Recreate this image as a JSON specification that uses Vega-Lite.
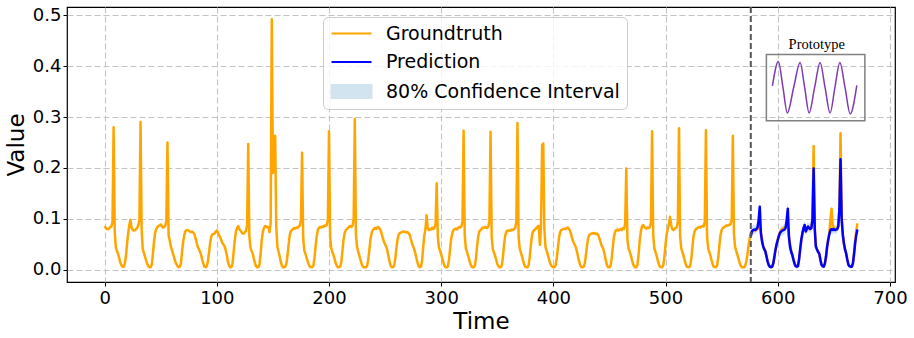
{
"$schema": "https://vega.github.io/schema/vega-lite/v6.json",
"width": 828, "height": 275,
"autosize": {"type": "none"},
"padding": {"left": 67, "top": 7, "right": 19, "bottom": 56},
"background": "white",
"config": {
  "view": {"stroke": "#000000", "strokeWidth": 1.2},
  "font": "DejaVu Sans",
  "axis": {"domain": false, "grid": true, "gridColor": "#c4c4c4", "gridDash": [6,3], "gridWidth": 1.1, "tickColor": "#000000", "tickSize": 4, "tickWidth": 1, "labelFont": "DejaVu Sans", "labelFontSize": 18, "labelColor": "#000000", "titleFont": "DejaVu Sans", "titleFontSize": 23, "titleFontWeight": "normal", "titleColor": "#000000"},
  "legend": {"title": null, "orient": "none", "legendX": 256, "legendY": 10,
         "labelFont": "DejaVu Sans", "labelFontSize": 19, "labelColor": "#000000", "labelLimit": 400,
         "symbolSize": 100, "symbolStrokeWidth": 2, "labelOffset": 37, "rowPadding": 8.5, "padding": 7,
         "fillColor": "rgba(255,255,255,0.8)", "strokeColor": "#cccccc", "cornerRadius": 5}
},
"datasets": {
"gt": [
{"t":0,"v":0.086},{"t":1,"v":0.082},{"t":2,"v":0.080},{"t":3,"v":0.080},{"t":4,"v":0.081},{"t":5,"v":0.084},{"t":6,"v":0.085},{"t":7,"v":0.094},{"t":8,"v":0.280},{"t":9,"v":0.075},{"t":10,"v":0.044},{"t":11,"v":0.037},{"t":12,"v":0.031},{"t":13,"v":0.023},{"t":14,"v":0.014},{"t":15,"v":0.009},{"t":16,"v":0.006},{"t":17,"v":0.006},{"t":18,"v":0.012},{"t":19,"v":0.027},{"t":20,"v":0.052},{"t":21,"v":0.072},{"t":22,"v":0.088},{"t":23,"v":0.098},
{"t":24,"v":0.083},{"t":25,"v":0.078},{"t":26,"v":0.077},{"t":27,"v":0.078},{"t":28,"v":0.080},{"t":29,"v":0.082},{"t":30,"v":0.088},{"t":31,"v":0.098},{"t":32,"v":0.290},{"t":33,"v":0.078},{"t":34,"v":0.040},{"t":35,"v":0.033},{"t":36,"v":0.026},{"t":37,"v":0.018},{"t":38,"v":0.011},{"t":39,"v":0.007},{"t":40,"v":0.005},{"t":41,"v":0.005},{"t":42,"v":0.010},{"t":43,"v":0.030},{"t":44,"v":0.055},{"t":45,"v":0.072},{"t":46,"v":0.080},{"t":47,"v":0.084},
{"t":48,"v":0.086},{"t":49,"v":0.087},{"t":50,"v":0.089},{"t":51,"v":0.086},{"t":52,"v":0.083},{"t":53,"v":0.084},{"t":54,"v":0.086},{"t":55,"v":0.096},{"t":56,"v":0.250},{"t":57,"v":0.068},{"t":58,"v":0.058},{"t":59,"v":0.046},{"t":60,"v":0.039},{"t":61,"v":0.031},{"t":62,"v":0.024},{"t":63,"v":0.016},{"t":64,"v":0.011},{"t":65,"v":0.007},{"t":66,"v":0.005},{"t":67,"v":0.006},{"t":68,"v":0.012},{"t":69,"v":0.035},{"t":70,"v":0.055},{"t":71,"v":0.068},
{"t":72,"v":0.076},{"t":73,"v":0.078},{"t":74,"v":0.078},{"t":75,"v":0.077},{"t":76,"v":0.075},{"t":77,"v":0.074},{"t":78,"v":0.075},{"t":79,"v":0.073},{"t":80,"v":0.070},{"t":81,"v":0.062},{"t":82,"v":0.054},{"t":83,"v":0.045},{"t":84,"v":0.041},{"t":85,"v":0.036},{"t":86,"v":0.029},{"t":87,"v":0.020},{"t":88,"v":0.012},{"t":89,"v":0.006},{"t":90,"v":0.005},{"t":91,"v":0.007},{"t":92,"v":0.016},{"t":93,"v":0.033},{"t":94,"v":0.052},{"t":95,"v":0.065},
{"t":96,"v":0.070},{"t":97,"v":0.070},{"t":98,"v":0.071},{"t":99,"v":0.075},{"t":100,"v":0.077},{"t":101,"v":0.073},{"t":102,"v":0.068},{"t":103,"v":0.064},{"t":104,"v":0.058},{"t":105,"v":0.052},{"t":106,"v":0.049},{"t":107,"v":0.046},{"t":108,"v":0.038},{"t":109,"v":0.028},{"t":110,"v":0.014},{"t":111,"v":0.008},{"t":112,"v":0.005},{"t":113,"v":0.005},{"t":114,"v":0.012},{"t":115,"v":0.035},{"t":116,"v":0.058},{"t":117,"v":0.075},{"t":118,"v":0.082},{"t":119,"v":0.086},
{"t":120,"v":0.080},{"t":121,"v":0.077},{"t":122,"v":0.074},{"t":123,"v":0.071},{"t":124,"v":0.071},{"t":125,"v":0.074},{"t":126,"v":0.076},{"t":127,"v":0.088},{"t":128,"v":0.247},{"t":129,"v":0.066},{"t":130,"v":0.043},{"t":131,"v":0.037},{"t":132,"v":0.032},{"t":133,"v":0.022},{"t":134,"v":0.013},{"t":135,"v":0.007},{"t":136,"v":0.005},{"t":137,"v":0.005},{"t":138,"v":0.010},{"t":139,"v":0.030},{"t":140,"v":0.058},{"t":141,"v":0.074},{"t":142,"v":0.082},{"t":143,"v":0.086},
{"t":144,"v":0.085},{"t":145,"v":0.084},{"t":146,"v":0.083},{"t":147,"v":0.074},{"t":148,"v":0.092},{"t":149,"v":0.492},{"t":150,"v":0.190},{"t":151,"v":0.196},{"t":152,"v":0.263},{"t":153,"v":0.085},{"t":154,"v":0.045},{"t":155,"v":0.036},{"t":156,"v":0.027},{"t":157,"v":0.016},{"t":158,"v":0.008},{"t":159,"v":0.005},{"t":160,"v":0.005},{"t":161,"v":0.006},{"t":162,"v":0.012},{"t":163,"v":0.028},{"t":164,"v":0.050},{"t":165,"v":0.068},{"t":166,"v":0.076},{"t":167,"v":0.078},
{"t":168,"v":0.080},{"t":169,"v":0.082},{"t":170,"v":0.081},{"t":171,"v":0.083},{"t":172,"v":0.082},{"t":173,"v":0.085},{"t":174,"v":0.087},{"t":175,"v":0.098},{"t":176,"v":0.230},{"t":177,"v":0.062},{"t":178,"v":0.038},{"t":179,"v":0.031},{"t":180,"v":0.024},{"t":181,"v":0.017},{"t":182,"v":0.010},{"t":183,"v":0.006},{"t":184,"v":0.005},{"t":185,"v":0.005},{"t":186,"v":0.008},{"t":187,"v":0.022},{"t":188,"v":0.045},{"t":189,"v":0.065},{"t":190,"v":0.078},{"t":191,"v":0.082},
{"t":192,"v":0.084},{"t":193,"v":0.083},{"t":194,"v":0.085},{"t":195,"v":0.084},{"t":196,"v":0.087},{"t":197,"v":0.086},{"t":198,"v":0.088},{"t":199,"v":0.098},{"t":200,"v":0.272},{"t":201,"v":0.065},{"t":202,"v":0.042},{"t":203,"v":0.035},{"t":204,"v":0.029},{"t":205,"v":0.021},{"t":206,"v":0.013},{"t":207,"v":0.008},{"t":208,"v":0.005},{"t":209,"v":0.005},{"t":210,"v":0.006},{"t":211,"v":0.015},{"t":212,"v":0.038},{"t":213,"v":0.060},{"t":214,"v":0.072},{"t":215,"v":0.078},
{"t":216,"v":0.080},{"t":217,"v":0.082},{"t":218,"v":0.085},{"t":219,"v":0.086},{"t":220,"v":0.084},{"t":221,"v":0.087},{"t":222,"v":0.100},{"t":223,"v":0.296},{"t":224,"v":0.070},{"t":225,"v":0.045},{"t":226,"v":0.036},{"t":227,"v":0.028},{"t":228,"v":0.020},{"t":229,"v":0.012},{"t":230,"v":0.007},{"t":231,"v":0.005},{"t":232,"v":0.005},{"t":233,"v":0.005},{"t":234,"v":0.008},{"t":235,"v":0.020},{"t":236,"v":0.040},{"t":237,"v":0.060},{"t":238,"v":0.072},{"t":239,"v":0.078},
{"t":240,"v":0.080},{"t":241,"v":0.082},{"t":242,"v":0.080},{"t":243,"v":0.083},{"t":244,"v":0.084},{"t":245,"v":0.081},{"t":246,"v":0.078},{"t":247,"v":0.070},{"t":248,"v":0.062},{"t":249,"v":0.055},{"t":250,"v":0.050},{"t":251,"v":0.046},{"t":252,"v":0.038},{"t":253,"v":0.027},{"t":254,"v":0.016},{"t":255,"v":0.008},{"t":256,"v":0.005},{"t":257,"v":0.005},{"t":258,"v":0.008},{"t":259,"v":0.020},{"t":260,"v":0.040},{"t":261,"v":0.058},{"t":262,"v":0.068},{"t":263,"v":0.072},
{"t":264,"v":0.073},{"t":265,"v":0.074},{"t":266,"v":0.075},{"t":267,"v":0.075},{"t":268,"v":0.074},{"t":269,"v":0.073},{"t":270,"v":0.074},{"t":271,"v":0.072},{"t":272,"v":0.068},{"t":273,"v":0.060},{"t":274,"v":0.052},{"t":275,"v":0.046},{"t":276,"v":0.040},{"t":277,"v":0.032},{"t":278,"v":0.022},{"t":279,"v":0.013},{"t":280,"v":0.007},{"t":281,"v":0.005},{"t":282,"v":0.006},{"t":283,"v":0.018},{"t":284,"v":0.045},{"t":285,"v":0.068},{"t":286,"v":0.080},{"t":287,"v":0.107},
{"t":288,"v":0.082},{"t":289,"v":0.078},{"t":290,"v":0.080},{"t":291,"v":0.079},{"t":292,"v":0.083},{"t":293,"v":0.080},{"t":294,"v":0.082},{"t":295,"v":0.090},{"t":296,"v":0.170},{"t":297,"v":0.065},{"t":298,"v":0.044},{"t":299,"v":0.037},{"t":300,"v":0.030},{"t":301,"v":0.022},{"t":302,"v":0.014},{"t":303,"v":0.008},{"t":304,"v":0.005},{"t":305,"v":0.005},{"t":306,"v":0.007},{"t":307,"v":0.020},{"t":308,"v":0.042},{"t":309,"v":0.062},{"t":310,"v":0.072},{"t":311,"v":0.078},
{"t":312,"v":0.080},{"t":313,"v":0.081},{"t":314,"v":0.079},{"t":315,"v":0.082},{"t":316,"v":0.084},{"t":317,"v":0.083},{"t":318,"v":0.085},{"t":319,"v":0.095},{"t":320,"v":0.273},{"t":321,"v":0.068},{"t":322,"v":0.042},{"t":323,"v":0.035},{"t":324,"v":0.028},{"t":325,"v":0.020},{"t":326,"v":0.012},{"t":327,"v":0.007},{"t":328,"v":0.005},{"t":329,"v":0.005},{"t":330,"v":0.008},{"t":331,"v":0.022},{"t":332,"v":0.046},{"t":333,"v":0.065},{"t":334,"v":0.075},{"t":335,"v":0.078},
{"t":336,"v":0.080},{"t":337,"v":0.083},{"t":338,"v":0.082},{"t":339,"v":0.084},{"t":340,"v":0.083},{"t":341,"v":0.082},{"t":342,"v":0.085},{"t":343,"v":0.094},{"t":344,"v":0.271},{"t":345,"v":0.065},{"t":346,"v":0.041},{"t":347,"v":0.034},{"t":348,"v":0.028},{"t":349,"v":0.020},{"t":350,"v":0.012},{"t":351,"v":0.007},{"t":352,"v":0.005},{"t":353,"v":0.005},{"t":354,"v":0.008},{"t":355,"v":0.024},{"t":356,"v":0.048},{"t":357,"v":0.066},{"t":358,"v":0.074},{"t":359,"v":0.077},
{"t":360,"v":0.076},{"t":361,"v":0.078},{"t":362,"v":0.077},{"t":363,"v":0.079},{"t":364,"v":0.078},{"t":365,"v":0.080},{"t":366,"v":0.082},{"t":367,"v":0.095},{"t":368,"v":0.288},{"t":369,"v":0.066},{"t":370,"v":0.042},{"t":371,"v":0.034},{"t":372,"v":0.027},{"t":373,"v":0.018},{"t":374,"v":0.011},{"t":375,"v":0.006},{"t":376,"v":0.005},{"t":377,"v":0.005},{"t":378,"v":0.009},{"t":379,"v":0.026},{"t":380,"v":0.050},{"t":381,"v":0.068},{"t":382,"v":0.076},{"t":383,"v":0.078},
{"t":384,"v":0.080},{"t":385,"v":0.082},{"t":386,"v":0.085},{"t":387,"v":0.086},{"t":388,"v":0.049},{"t":389,"v":0.085},{"t":390,"v":0.245},{"t":391,"v":0.248},{"t":392,"v":0.080},{"t":393,"v":0.045},{"t":394,"v":0.037},{"t":395,"v":0.030},{"t":396,"v":0.022},{"t":397,"v":0.014},{"t":398,"v":0.009},{"t":399,"v":0.006},{"t":400,"v":0.005},{"t":401,"v":0.005},{"t":402,"v":0.009},{"t":403,"v":0.022},{"t":404,"v":0.042},{"t":405,"v":0.062},{"t":406,"v":0.074},{"t":407,"v":0.078},
{"t":408,"v":0.079},{"t":409,"v":0.080},{"t":410,"v":0.081},{"t":411,"v":0.080},{"t":412,"v":0.082},{"t":413,"v":0.083},{"t":414,"v":0.080},{"t":415,"v":0.076},{"t":416,"v":0.068},{"t":417,"v":0.060},{"t":418,"v":0.054},{"t":419,"v":0.049},{"t":420,"v":0.044},{"t":421,"v":0.036},{"t":422,"v":0.026},{"t":423,"v":0.016},{"t":424,"v":0.009},{"t":425,"v":0.005},{"t":426,"v":0.005},{"t":427,"v":0.006},{"t":428,"v":0.012},{"t":429,"v":0.028},{"t":430,"v":0.048},{"t":431,"v":0.062},
{"t":432,"v":0.068},{"t":433,"v":0.070},{"t":434,"v":0.071},{"t":435,"v":0.072},{"t":436,"v":0.071},{"t":437,"v":0.072},{"t":438,"v":0.070},{"t":439,"v":0.071},{"t":440,"v":0.068},{"t":441,"v":0.062},{"t":442,"v":0.055},{"t":443,"v":0.048},{"t":444,"v":0.044},{"t":445,"v":0.037},{"t":446,"v":0.027},{"t":447,"v":0.016},{"t":448,"v":0.008},{"t":449,"v":0.005},{"t":450,"v":0.005},{"t":451,"v":0.008},{"t":452,"v":0.022},{"t":453,"v":0.045},{"t":454,"v":0.065},{"t":455,"v":0.074},
{"t":456,"v":0.078},{"t":457,"v":0.079},{"t":458,"v":0.077},{"t":459,"v":0.079},{"t":460,"v":0.080},{"t":461,"v":0.078},{"t":462,"v":0.082},{"t":463,"v":0.080},{"t":464,"v":0.090},{"t":465,"v":0.199},{"t":466,"v":0.060},{"t":467,"v":0.042},{"t":468,"v":0.036},{"t":469,"v":0.029},{"t":470,"v":0.020},{"t":471,"v":0.012},{"t":472,"v":0.007},{"t":473,"v":0.005},{"t":474,"v":0.005},{"t":475,"v":0.010},{"t":476,"v":0.030},{"t":477,"v":0.058},{"t":478,"v":0.075},{"t":479,"v":0.085},
{"t":480,"v":0.088},{"t":481,"v":0.084},{"t":482,"v":0.082},{"t":483,"v":0.081},{"t":484,"v":0.083},{"t":485,"v":0.082},{"t":486,"v":0.084},{"t":487,"v":0.092},{"t":488,"v":0.272},{"t":489,"v":0.068},{"t":490,"v":0.042},{"t":491,"v":0.035},{"t":492,"v":0.028},{"t":493,"v":0.019},{"t":494,"v":0.011},{"t":495,"v":0.006},{"t":496,"v":0.005},{"t":497,"v":0.005},{"t":498,"v":0.009},{"t":499,"v":0.026},{"t":500,"v":0.050},{"t":501,"v":0.070},{"t":502,"v":0.080},{"t":503,"v":0.090},
{"t":504,"v":0.104},{"t":505,"v":0.088},{"t":506,"v":0.080},{"t":507,"v":0.078},{"t":508,"v":0.080},{"t":509,"v":0.082},{"t":510,"v":0.084},{"t":511,"v":0.095},{"t":512,"v":0.278},{"t":513,"v":0.066},{"t":514,"v":0.042},{"t":515,"v":0.035},{"t":516,"v":0.028},{"t":517,"v":0.019},{"t":518,"v":0.011},{"t":519,"v":0.006},{"t":520,"v":0.005},{"t":521,"v":0.005},{"t":522,"v":0.008},{"t":523,"v":0.022},{"t":524,"v":0.046},{"t":525,"v":0.066},{"t":526,"v":0.076},{"t":527,"v":0.080},
{"t":528,"v":0.081},{"t":529,"v":0.083},{"t":530,"v":0.084},{"t":531,"v":0.083},{"t":532,"v":0.085},{"t":533,"v":0.086},{"t":534,"v":0.085},{"t":535,"v":0.094},{"t":536,"v":0.274},{"t":537,"v":0.066},{"t":538,"v":0.042},{"t":539,"v":0.035},{"t":540,"v":0.028},{"t":541,"v":0.019},{"t":542,"v":0.011},{"t":543,"v":0.006},{"t":544,"v":0.005},{"t":545,"v":0.005},{"t":546,"v":0.009},{"t":547,"v":0.024},{"t":548,"v":0.048},{"t":549,"v":0.068},{"t":550,"v":0.078},{"t":551,"v":0.082},
{"t":552,"v":0.083},{"t":553,"v":0.085},{"t":554,"v":0.087},{"t":555,"v":0.086},{"t":556,"v":0.088},{"t":557,"v":0.088},{"t":558,"v":0.090},{"t":559,"v":0.100},{"t":560,"v":0.263},{"t":561,"v":0.070},{"t":562,"v":0.045},{"t":563,"v":0.037},{"t":564,"v":0.030},{"t":565,"v":0.022},{"t":566,"v":0.014},{"t":567,"v":0.008},{"t":568,"v":0.005},{"t":569,"v":0.005},{"t":570,"v":0.005},{"t":571,"v":0.008},{"t":572,"v":0.016},{"t":573,"v":0.030},{"t":574,"v":0.048},{"t":575,"v":0.062},
{"t":576,"v":0.070},{"t":577,"v":0.074},{"t":578,"v":0.076},{"t":579,"v":0.078},{"t":580,"v":0.077},{"t":581,"v":0.079},{"t":582,"v":0.080},{"t":583,"v":0.082},{"t":584,"v":0.085},{"t":585,"v":0.075},{"t":586,"v":0.060},{"t":587,"v":0.048},{"t":588,"v":0.042},{"t":589,"v":0.037},{"t":590,"v":0.028},{"t":591,"v":0.017},{"t":592,"v":0.010},{"t":593,"v":0.006},{"t":594,"v":0.005},{"t":595,"v":0.006},{"t":596,"v":0.012},{"t":597,"v":0.024},{"t":598,"v":0.038},{"t":599,"v":0.050},
{"t":600,"v":0.060},{"t":601,"v":0.068},{"t":602,"v":0.074},{"t":603,"v":0.078},{"t":604,"v":0.080},{"t":605,"v":0.082},{"t":606,"v":0.083},{"t":607,"v":0.084},{"t":608,"v":0.086},{"t":609,"v":0.082},{"t":610,"v":0.068},{"t":611,"v":0.050},{"t":612,"v":0.038},{"t":613,"v":0.030},{"t":614,"v":0.021},{"t":615,"v":0.013},{"t":616,"v":0.008},{"t":617,"v":0.006},{"t":618,"v":0.007},{"t":619,"v":0.018},{"t":620,"v":0.038},{"t":621,"v":0.056},{"t":622,"v":0.070},{"t":623,"v":0.080},
{"t":624,"v":0.085},{"t":625,"v":0.078},{"t":626,"v":0.080},{"t":627,"v":0.083},{"t":628,"v":0.081},{"t":629,"v":0.080},{"t":630,"v":0.082},{"t":631,"v":0.100},{"t":632,"v":0.243},{"t":633,"v":0.085},{"t":634,"v":0.048},{"t":635,"v":0.041},{"t":636,"v":0.036},{"t":637,"v":0.032},{"t":638,"v":0.021},{"t":639,"v":0.011},{"t":640,"v":0.007},{"t":641,"v":0.006},{"t":642,"v":0.011},{"t":643,"v":0.024},{"t":644,"v":0.043},{"t":645,"v":0.058},{"t":646,"v":0.072},{"t":647,"v":0.100},
{"t":648,"v":0.120},{"t":649,"v":0.088},{"t":650,"v":0.082},{"t":651,"v":0.080},{"t":652,"v":0.078},{"t":653,"v":0.080},{"t":654,"v":0.088},{"t":655,"v":0.120},{"t":656,"v":0.268},{"t":657,"v":0.100},{"t":658,"v":0.068},{"t":659,"v":0.050},{"t":660,"v":0.040},{"t":661,"v":0.032},{"t":662,"v":0.021},{"t":663,"v":0.011},{"t":664,"v":0.007},{"t":665,"v":0.006},{"t":666,"v":0.006},{"t":667,"v":0.012},{"t":668,"v":0.030},{"t":669,"v":0.055},{"t":670,"v":0.076},{"t":671,"v":0.091}
],
"pred": [
{"t":576,"p":0.066,"lo":0.056,"hi":0.078},{"t":577,"p":0.076,"lo":0.066,"hi":0.086},{"t":578,"p":0.078,"lo":0.069,"hi":0.088},{"t":579,"p":0.079,"lo":0.071,"hi":0.088},{"t":580,"p":0.078,"lo":0.070,"hi":0.086},{"t":581,"p":0.080,"lo":0.072,"hi":0.088},{"t":582,"p":0.083,"lo":0.075,"hi":0.092},{"t":583,"p":0.098,"lo":0.088,"hi":0.110},{"t":584,"p":0.124,"lo":0.112,"hi":0.136},{"t":585,"p":0.072,"lo":0.064,"hi":0.082},{"t":586,"p":0.056,"lo":0.049,"hi":0.063},{"t":587,"p":0.046,"lo":0.040,"hi":0.052},{"t":588,"p":0.040,"lo":0.035,"hi":0.046},{"t":589,"p":0.036,"lo":0.031,"hi":0.041},{"t":590,"p":0.026,"lo":0.021,"hi":0.031},{"t":591,"p":0.016,"lo":0.012,"hi":0.021},{"t":592,"p":0.009,"lo":0.005,"hi":0.013},{"t":593,"p":0.006,"lo":0.002,"hi":0.010},{"t":594,"p":0.005,"lo":0.001,"hi":0.009},{"t":595,"p":0.006,"lo":0.002,"hi":0.010},{"t":596,"p":0.012,"lo":0.007,"hi":0.017},{"t":597,"p":0.025,"lo":0.019,"hi":0.031},{"t":598,"p":0.039,"lo":0.032,"hi":0.046},{"t":599,"p":0.050,"lo":0.043,"hi":0.058},
{"t":600,"p":0.058,"lo":0.050,"hi":0.067},{"t":601,"p":0.066,"lo":0.058,"hi":0.075},{"t":602,"p":0.072,"lo":0.063,"hi":0.081},{"t":603,"p":0.075,"lo":0.066,"hi":0.084},{"t":604,"p":0.077,"lo":0.068,"hi":0.086},{"t":605,"p":0.078,"lo":0.069,"hi":0.087},{"t":606,"p":0.079,"lo":0.070,"hi":0.089},{"t":607,"p":0.082,"lo":0.072,"hi":0.093},{"t":608,"p":0.098,"lo":0.087,"hi":0.110},{"t":609,"p":0.120,"lo":0.108,"hi":0.132},{"t":610,"p":0.064,"lo":0.056,"hi":0.073},{"t":611,"p":0.045,"lo":0.039,"hi":0.051},{"t":612,"p":0.035,"lo":0.030,"hi":0.040},{"t":613,"p":0.029,"lo":0.024,"hi":0.034},{"t":614,"p":0.020,"lo":0.016,"hi":0.025},{"t":615,"p":0.012,"lo":0.008,"hi":0.016},{"t":616,"p":0.007,"lo":0.003,"hi":0.011},{"t":617,"p":0.006,"lo":0.002,"hi":0.010},{"t":618,"p":0.007,"lo":0.003,"hi":0.011},{"t":619,"p":0.020,"lo":0.015,"hi":0.025},{"t":620,"p":0.040,"lo":0.034,"hi":0.047},{"t":621,"p":0.059,"lo":0.052,"hi":0.067},{"t":622,"p":0.072,"lo":0.064,"hi":0.081},{"t":623,"p":0.082,"lo":0.073,"hi":0.091},
{"t":624,"p":0.088,"lo":0.079,"hi":0.097},{"t":625,"p":0.075,"lo":0.067,"hi":0.084},{"t":626,"p":0.080,"lo":0.072,"hi":0.089},{"t":627,"p":0.085,"lo":0.076,"hi":0.094},{"t":628,"p":0.082,"lo":0.074,"hi":0.091},{"t":629,"p":0.080,"lo":0.072,"hi":0.089},{"t":630,"p":0.082,"lo":0.073,"hi":0.091},{"t":631,"p":0.100,"lo":0.090,"hi":0.111},{"t":632,"p":0.199,"lo":0.186,"hi":0.212},{"t":633,"p":0.080,"lo":0.071,"hi":0.090},{"t":634,"p":0.045,"lo":0.039,"hi":0.051},{"t":635,"p":0.040,"lo":0.035,"hi":0.046},{"t":636,"p":0.035,"lo":0.030,"hi":0.040},{"t":637,"p":0.032,"lo":0.027,"hi":0.037},{"t":638,"p":0.020,"lo":0.016,"hi":0.025},{"t":639,"p":0.010,"lo":0.006,"hi":0.014},{"t":640,"p":0.007,"lo":0.003,"hi":0.011},{"t":641,"p":0.006,"lo":0.002,"hi":0.010},{"t":642,"p":0.012,"lo":0.008,"hi":0.016},{"t":643,"p":0.025,"lo":0.020,"hi":0.031},{"t":644,"p":0.045,"lo":0.039,"hi":0.052},{"t":645,"p":0.059,"lo":0.052,"hi":0.067},{"t":646,"p":0.070,"lo":0.062,"hi":0.079},{"t":647,"p":0.078,"lo":0.069,"hi":0.088},
{"t":648,"p":0.080,"lo":0.071,"hi":0.090},{"t":649,"p":0.078,"lo":0.070,"hi":0.087},{"t":650,"p":0.080,"lo":0.072,"hi":0.089},{"t":651,"p":0.078,"lo":0.070,"hi":0.087},{"t":652,"p":0.079,"lo":0.071,"hi":0.088},{"t":653,"p":0.080,"lo":0.072,"hi":0.089},{"t":654,"p":0.085,"lo":0.076,"hi":0.095},{"t":655,"p":0.120,"lo":0.108,"hi":0.132},{"t":656,"p":0.217,"lo":0.203,"hi":0.231},{"t":657,"p":0.100,"lo":0.090,"hi":0.111},{"t":658,"p":0.070,"lo":0.062,"hi":0.078},{"t":659,"p":0.052,"lo":0.046,"hi":0.059},{"t":660,"p":0.040,"lo":0.035,"hi":0.046},{"t":661,"p":0.032,"lo":0.027,"hi":0.037},{"t":662,"p":0.020,"lo":0.016,"hi":0.025},{"t":663,"p":0.010,"lo":0.006,"hi":0.014},{"t":664,"p":0.007,"lo":0.003,"hi":0.011},{"t":665,"p":0.006,"lo":0.002,"hi":0.010},{"t":666,"p":0.006,"lo":0.002,"hi":0.010},{"t":667,"p":0.012,"lo":0.008,"hi":0.016},{"t":668,"p":0.030,"lo":0.024,"hi":0.036},{"t":669,"p":0.052,"lo":0.045,"hi":0.059},{"t":670,"p":0.068,"lo":0.060,"hi":0.076},{"t":671,"p":0.079,"lo":0.071,"hi":0.088}
],
"proto": [
{"t":595.3,"v":0.361},{"t":600.6,"v":0.409},{"t":604.6,"v":0.359},{"t":608.6,"v":0.308},{"t":614.3,"v":0.359},{"t":620.0,"v":0.407},{"t":624.0,"v":0.358},{"t":628.0,"v":0.308},{"t":632.9,"v":0.358},{"t":637.8,"v":0.407},{"t":642.2,"v":0.358},{"t":646.7,"v":0.308},{"t":651.0,"v":0.358},{"t":655.4,"v":0.407},{"t":660.0,"v":0.358},{"t":664.6,"v":0.306},{"t":670.5,"v":0.362}
],
"box": [{"t":589.9,"t2":677.7,"v":0.2925,"v2":0.4229}],
"label": [{"t":634.8,"v":0.441,"label":"Prototype"}],
"vline": [{"t":576}]
},
"encoding": {
  "x": {"field": "t", "type": "quantitative", "title": "Time",
        "scale": {"domain": [-33.55, 704.55], "nice": false, "zero": false},
        "axis": {"values": [0,100,200,300,400,500,600,700], "format": "d", "labelPadding": 3, "titlePadding": 3}}
},
"layer": [
  {"data": {"name": "pred"},
   "mark": {"type": "area", "opacity": 1},
   "encoding": {
     "y": {"field": "lo", "type": "quantitative", "title": "Value",
           "scale": {"domain": [-0.024, 0.516], "nice": false, "zero": false},
           "axis": {"values": [0,0.1,0.2,0.3,0.4,0.5], "format": ".1f", "labelPadding": 2, "titlePadding": 4}},
     "y2": {"field": "hi"},
     "color": {"datum": "80% Confidence Interval", "type": "nominal",
       "scale": {"domain": ["Groundtruth","Prediction","80% Confidence Interval"], "range": ["#ffa500","#0000ff","#d2e4f0"]},
       "legend": {"encode": {"symbols": {"update": {
           "shape": {"signal": "datum.value === '80% Confidence Interval' ? 'M-1.6,-1.3H6.4V1.3H-1.6Z' : 'M-1.6,0H6.4'"},
           "fill": {"signal": "datum.value === '80% Confidence Interval' ? '#d2e4f0' : 'transparent'"},
           "stroke": {"signal": "datum.value === 'Groundtruth' ? '#ffa500' : datum.value === 'Prediction' ? '#0000ff' : 'transparent'"},
           "strokeWidth": {"value": 2},
           "opacity": {"value": 1}, "fillOpacity": {"value": 1}, "strokeOpacity": {"value": 1}
         }}}}}
   }},
  {"data": {"name": "gt"},
   "mark": {"type": "line", "strokeWidth": 2.5, "strokeJoin": "round"},
   "encoding": {
     "y": {"field": "v", "type": "quantitative", "title": "Value", "scale": {"domain": [-0.024, 0.516], "nice": false, "zero": false}},
     "color": {"datum": "Groundtruth", "type": "nominal",
       "legend": {"encode": {"symbols": {"update": {
           "shape": {"signal": "datum.value === '80% Confidence Interval' ? 'M-1.6,-1.3H6.4V1.3H-1.6Z' : 'M-1.6,0H6.4'"},
           "fill": {"signal": "datum.value === '80% Confidence Interval' ? '#d2e4f0' : 'transparent'"},
           "stroke": {"signal": "datum.value === 'Groundtruth' ? '#ffa500' : datum.value === 'Prediction' ? '#0000ff' : 'transparent'"},
           "strokeWidth": {"value": 2},
           "opacity": {"value": 1}, "fillOpacity": {"value": 1}, "strokeOpacity": {"value": 1}
         }}}}}
   }},
  {"data": {"name": "pred"},
   "mark": {"type": "line", "strokeWidth": 2.5, "strokeJoin": "round"},
   "encoding": {
     "y": {"field": "p", "type": "quantitative", "title": "Value", "scale": {"domain": [-0.024, 0.516], "nice": false, "zero": false}},
     "color": {"datum": "Prediction", "type": "nominal",
       "legend": {"encode": {"symbols": {"update": {
           "shape": {"signal": "datum.value === '80% Confidence Interval' ? 'M-1.6,-1.3H6.4V1.3H-1.6Z' : 'M-1.6,0H6.4'"},
           "fill": {"signal": "datum.value === '80% Confidence Interval' ? '#d2e4f0' : 'transparent'"},
           "stroke": {"signal": "datum.value === 'Groundtruth' ? '#ffa500' : datum.value === 'Prediction' ? '#0000ff' : 'transparent'"},
           "strokeWidth": {"value": 2},
           "opacity": {"value": 1}, "fillOpacity": {"value": 1}, "strokeOpacity": {"value": 1}
         }}}}}
   }},
  {"data": {"name": "vline"},
   "mark": {"type": "rule", "color": "#555555", "strokeWidth": 2, "strokeDash": [6,3]},
   "encoding": {}},
  {"data": {"name": "box"},
   "mark": {"type": "rect", "filled": false, "color": "#808080", "strokeWidth": 1.5},
   "encoding": {
     "x2": {"field": "t2"},
     "y": {"field": "v", "type": "quantitative", "title": "Value", "scale": {"domain": [-0.024, 0.516], "nice": false, "zero": false}},
     "y2": {"field": "v2"}
   }},
  {"data": {"name": "proto"},
   "mark": {"type": "line", "color": "#7d3cb5", "strokeWidth": 1.5, "interpolate": "monotone"},
   "encoding": {
     "y": {"field": "v", "type": "quantitative", "title": "Value", "scale": {"domain": [-0.024, 0.516], "nice": false, "zero": false}}
   }},
  {"data": {"name": "label"},
   "mark": {"type": "text", "font": "Liberation Serif", "fontSize": 14.5, "color": "#000000", "align": "center", "baseline": "middle"},
   "encoding": {
     "y": {"field": "v", "type": "quantitative", "title": "Value", "scale": {"domain": [-0.024, 0.516], "nice": false, "zero": false}},
     "text": {"field": "label"}
   }}
]
}
